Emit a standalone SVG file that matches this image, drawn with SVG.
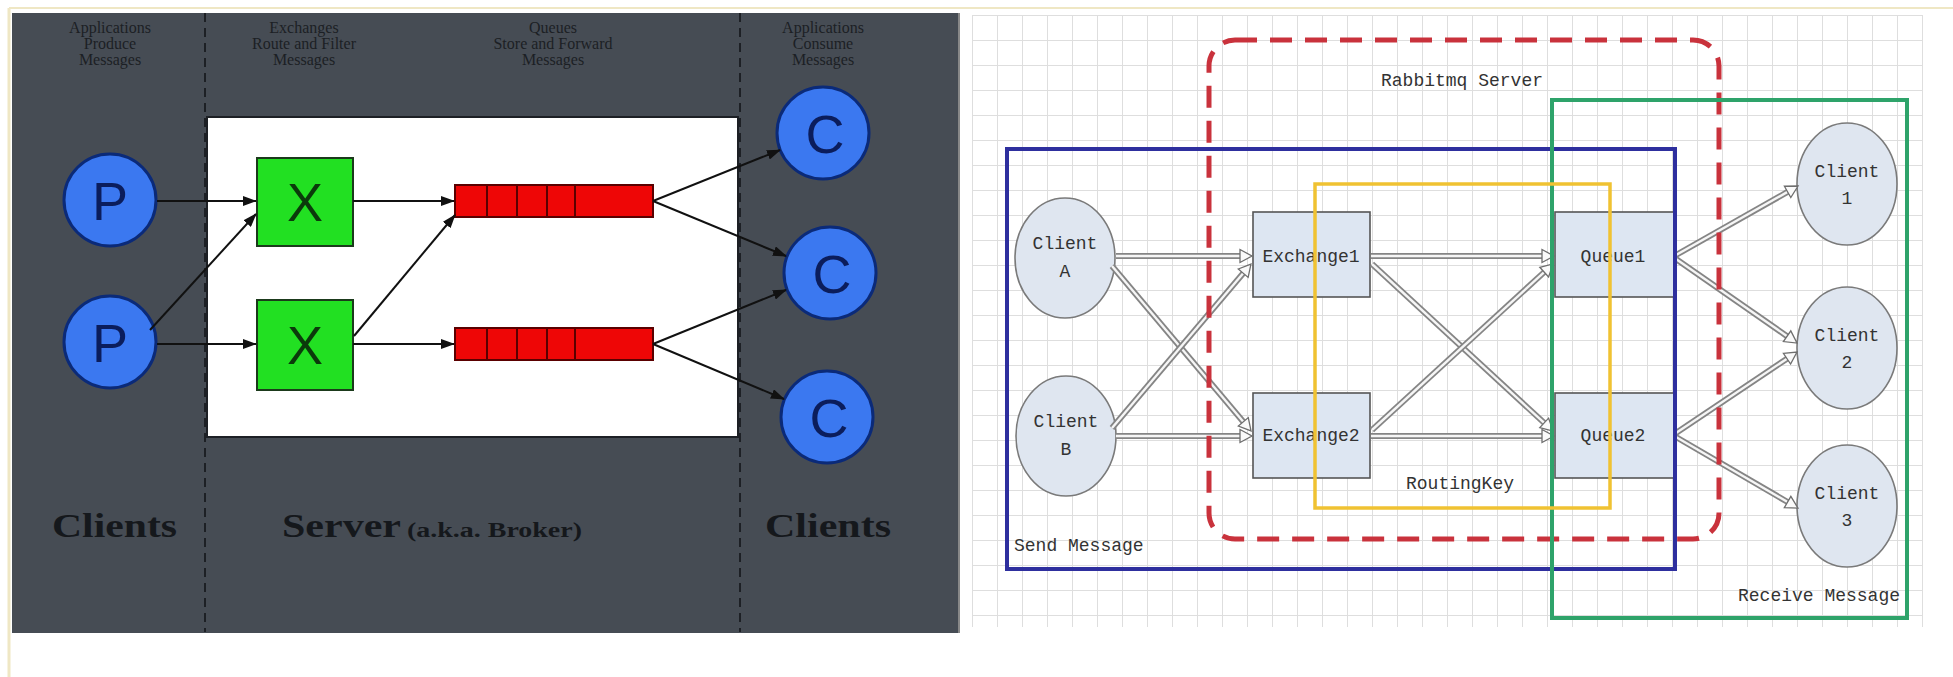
<svg xmlns="http://www.w3.org/2000/svg" width="1953" height="677" viewBox="0 0 1953 677">
<style>
.toplbl{font-family:"Liberation Serif",serif;font-size:16px;fill:#1c1f24;text-anchor:middle}
.botlbl{font-family:"Liberation Serif",serif;font-weight:bold;fill:#15181c}
.letter{font-family:"Liberation Sans",sans-serif;font-size:54px;fill:#0b1d5c;text-anchor:middle}
.xl{font-family:"Liberation Sans",sans-serif;font-size:54px;fill:#0b3a0b;text-anchor:middle}
.pc{fill:#3b78f0;stroke:#0b2a78;stroke-width:3}
.xb{fill:#22e022;stroke:#1b3a1b;stroke-width:2}
.q{fill:#ee0606;stroke:#5a0000;stroke-width:2}
.qd{stroke:#5a0000;stroke-width:2}
.blk{stroke:#111;stroke-width:2;fill:none;marker-end:url(#ah)}
.mono{font-family:"Liberation Mono",monospace;font-size:18px;fill:#333}
.cl{fill:#dfe6f0;stroke:#7a7a7a;stroke-width:1.6}
.bx{fill:#dde6f2;stroke:#555;stroke-width:1.6}
.ao{stroke:#858585;stroke-width:6;fill:none}
.ai{stroke:#f6f6f6;stroke-width:2.4;fill:none;marker-end:url(#oh)}
</style>
<defs>
<marker id="ah" markerWidth="14" markerHeight="10" refX="13" refY="5" orient="auto" markerUnits="userSpaceOnUse"><path d="M0,0 L14,5 L0,10 Z" fill="#111"/></marker>
<marker id="oh" markerWidth="14" markerHeight="14" refX="0" refY="6.5" orient="auto" markerUnits="userSpaceOnUse" overflow="visible"><path d="M0,0 L12,6.5 L0,13 Z" fill="#fafafa" stroke="#6e6e6e" stroke-width="1.3"/></marker>
<pattern id="grid" width="25" height="25" patternUnits="userSpaceOnUse" x="972" y="15"><path d="M0,0.5 H25 M0.5,0 V25" stroke="#dedede" stroke-width="1" fill="none"/></pattern>
<linearGradient id="fade" x1="0" y1="0" x2="0" y2="1"><stop offset="0.9" stop-color="#fff" stop-opacity="0"/><stop offset="1" stop-color="#fff" stop-opacity="1"/></linearGradient>
</defs>
<rect x="0" y="0" width="1953" height="677" fill="#ffffff"/>
<line x1="9" y1="8" x2="1953" y2="8" stroke="#efe7c4" stroke-width="2"/>
<line x1="9" y1="8" x2="9" y2="677" stroke="#efe7c4" stroke-width="3"/>

<!-- Left panel -->
<g id="left-panel">
<rect x="12" y="13" width="946" height="620" fill="#464c54"/>
<line x1="959" y1="13" x2="959" y2="633" stroke="#888" stroke-width="2"/>
<line x1="205" y1="13" x2="205" y2="632" stroke="#1d2025" stroke-width="2" stroke-dasharray="9 6"/>
<line x1="740" y1="13" x2="740" y2="632" stroke="#1d2025" stroke-width="2" stroke-dasharray="9 6"/>
<rect x="207" y="117" width="531" height="320" fill="#ffffff" stroke="#1d2025" stroke-width="2"/>
<text class="toplbl"><tspan x="110" y="33">Applications</tspan><tspan x="110" y="49">Produce</tspan><tspan x="110" y="65">Messages</tspan></text>
<text class="toplbl"><tspan x="304" y="33">Exchanges</tspan><tspan x="304" y="49">Route and Filter</tspan><tspan x="304" y="65">Messages</tspan></text>
<text class="toplbl"><tspan x="553" y="33">Queues</tspan><tspan x="553" y="49">Store and Forward</tspan><tspan x="553" y="65">Messages</tspan></text>
<text class="toplbl"><tspan x="823" y="33">Applications</tspan><tspan x="823" y="49">Consume</tspan><tspan x="823" y="65">Messages</tspan></text>
<text class="botlbl" x="52" y="537" font-size="34" textLength="125" lengthAdjust="spacingAndGlyphs">Clients</text>
<text class="botlbl" x="282" y="537" font-size="34" textLength="119" lengthAdjust="spacingAndGlyphs">Server</text>
<text class="botlbl" x="407" y="537" font-size="20" textLength="175" lengthAdjust="spacingAndGlyphs">(a.k.a. Broker)</text>
<text class="botlbl" x="765" y="537" font-size="34" textLength="126" lengthAdjust="spacingAndGlyphs">Clients</text>
</g>

<g id="P1"><circle class="pc" cx="110" cy="200" r="46"/><text class="letter" x="110" y="220">P</text></g>
<g id="P2"><circle class="pc" cx="110" cy="342" r="46"/><text class="letter" x="110" y="362">P</text></g>
<g id="X1"><rect class="xb" x="257" y="158" width="96" height="88"/><text class="xl" x="305" y="221">X</text></g>
<g id="X2"><rect class="xb" x="257" y="300" width="96" height="90"/><text class="xl" x="305" y="364">X</text></g>
<g id="Q1"><rect class="q" x="455" y="185" width="198" height="32"/><line class="qd" x1="487" y1="185" x2="487" y2="217"/><line class="qd" x1="517" y1="185" x2="517" y2="217"/><line class="qd" x1="547" y1="185" x2="547" y2="217"/><line class="qd" x1="575" y1="185" x2="575" y2="217"/></g>
<g id="Q2"><rect class="q" x="455" y="328" width="198" height="32"/><line class="qd" x1="487" y1="328" x2="487" y2="360"/><line class="qd" x1="517" y1="328" x2="517" y2="360"/><line class="qd" x1="547" y1="328" x2="547" y2="360"/><line class="qd" x1="575" y1="328" x2="575" y2="360"/></g>
<g id="C1"><circle class="pc" cx="823" cy="133" r="46"/><text class="letter" x="825" y="153">C</text></g>
<g id="C2"><circle class="pc" cx="830" cy="273" r="46"/><text class="letter" x="832" y="293">C</text></g>
<g id="C3"><circle class="pc" cx="827" cy="417" r="46"/><text class="letter" x="829" y="437">C</text></g>

<g id="left-connectors">
<line class="blk" x1="157" y1="201" x2="256" y2="201"/>
<line class="blk" x1="157" y1="344" x2="256" y2="344"/>
<line class="blk" x1="150" y1="330" x2="256" y2="214"/>
<line class="blk" x1="353" y1="201" x2="454" y2="201"/>
<line class="blk" x1="354" y1="336" x2="455" y2="215"/>
<line class="blk" x1="353" y1="344" x2="454" y2="344"/>
<line class="blk" x1="653" y1="201" x2="780" y2="150"/>
<line class="blk" x1="653" y1="201" x2="786" y2="256"/>
<line class="blk" x1="653" y1="344" x2="786" y2="290"/>
<line class="blk" x1="653" y1="344" x2="784" y2="399"/>
</g>

<!-- Right panel background -->
<g id="right-panel">
<rect x="962" y="13" width="991" height="620" fill="#ffffff"/>
<rect x="972" y="15" width="951" height="612" fill="url(#grid)"/>
<rect x="962" y="560" width="991" height="75" fill="url(#fade)"/>
<text class="mono" x="1381" y="86">Rabbitmq Server</text>
<text class="mono" x="1014" y="551">Send Message</text>
<text class="mono" x="1738" y="601">Receive Message</text>
<text class="mono" x="1460" y="489" font-size="20" text-anchor="middle">RoutingKey</text>
</g>

<g id="ClientA"><ellipse class="cl" cx="1065" cy="258" rx="50" ry="60"/><text class="mono" x="1065" y="249" text-anchor="middle">Client</text><text class="mono" x="1065" y="277" text-anchor="middle">A</text></g>
<g id="ClientB"><ellipse class="cl" cx="1066" cy="436" rx="50" ry="60"/><text class="mono" x="1066" y="427" text-anchor="middle">Client</text><text class="mono" x="1066" y="455" text-anchor="middle">B</text></g>
<g id="Exchange1"><rect class="bx" x="1253" y="212" width="117" height="85"/><text class="mono" x="1311" y="262" text-anchor="middle">Exchange1</text></g>
<g id="Exchange2"><rect class="bx" x="1253" y="393" width="117" height="85"/><text class="mono" x="1311" y="441" text-anchor="middle">Exchange2</text></g>
<g id="Queue1"><rect class="bx" x="1555" y="212" width="120" height="85"/><text class="mono" x="1613" y="262" text-anchor="middle">Queue1</text></g>
<g id="Queue2"><rect class="bx" x="1555" y="393" width="120" height="85"/><text class="mono" x="1613" y="441" text-anchor="middle">Queue2</text></g>
<g id="Client1"><ellipse class="cl" cx="1847" cy="184" rx="50" ry="61"/><text class="mono" x="1847" y="177" text-anchor="middle">Client</text><text class="mono" x="1847" y="204" text-anchor="middle">1</text></g>
<g id="Client2"><ellipse class="cl" cx="1847" cy="348" rx="50" ry="61"/><text class="mono" x="1847" y="341" text-anchor="middle">Client</text><text class="mono" x="1847" y="368" text-anchor="middle">2</text></g>
<g id="Client3"><ellipse class="cl" cx="1847" cy="506" rx="50" ry="61"/><text class="mono" x="1847" y="499" text-anchor="middle">Client</text><text class="mono" x="1847" y="526" text-anchor="middle">3</text></g>

<g id="right-connectors">
<path class="ao" d="M1116,256 L1240,256"/><path class="ai" d="M1116,256 L1240,256"/>
<path class="ao" d="M1112,266 L1243.3,421.8"/><path class="ai" d="M1112,266 L1243.3,421.8"/>
<path class="ao" d="M1112,428 L1243.2,273.2"/><path class="ai" d="M1112,428 L1243.2,273.2"/>
<path class="ao" d="M1116,436 L1240,436"/><path class="ai" d="M1116,436 L1240,436"/>
<path class="ao" d="M1371,256 L1542,256"/><path class="ai" d="M1371,256 L1542,256"/>
<path class="ao" d="M1372,264 L1544.2,422.9"/><path class="ai" d="M1372,264 L1544.2,422.9"/>
<path class="ao" d="M1372,430 L1544.2,272.1"/><path class="ai" d="M1372,430 L1544.2,272.1"/>
<path class="ao" d="M1371,436 L1542,436"/><path class="ai" d="M1371,436 L1542,436"/>
<path class="ao" d="M1676,255 L1787.6,191.9"/><path class="ai" d="M1676,255 L1787.6,191.9"/>
<path class="ao" d="M1676,259 L1787.1,336.2"/><path class="ai" d="M1676,259 L1787.1,336.2"/>
<path class="ao" d="M1676,433 L1787,358.7"/><path class="ai" d="M1676,433 L1787,358.7"/>
<path class="ao" d="M1676,437 L1787.6,502"/><path class="ai" d="M1676,437 L1787.6,502"/>
</g>

<g id="frames">
<rect x="1209" y="40" width="510" height="499" rx="26" ry="26" fill="none" stroke="#c9323c" stroke-width="5" stroke-dasharray="22 13"/>
<rect x="1007" y="149" width="668" height="420" fill="none" stroke="#2e2f9e" stroke-width="4"/>
<rect x="1552" y="100" width="355" height="518" fill="none" stroke="#2ea36a" stroke-width="4"/>
<rect x="1315" y="184" width="295" height="324" fill="none" stroke="#f0c232" stroke-width="3.5"/>
</g>
</svg>
